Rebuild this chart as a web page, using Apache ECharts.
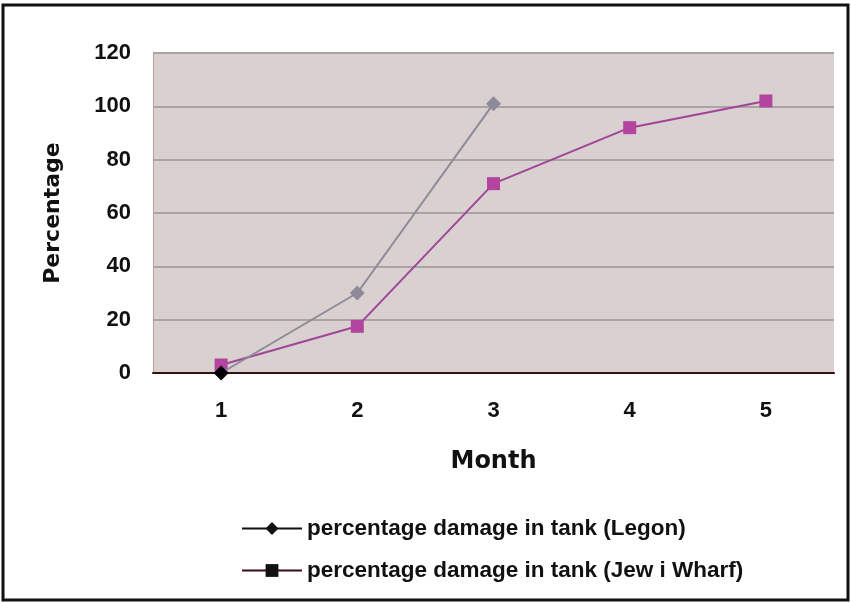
<!DOCTYPE html>
<html>
<head>
<meta charset="utf-8">
<script src="https://cdn.jsdelivr.net/npm/echarts@6/dist/echarts.min.js"></script>
<style>
  html, body { margin: 0; padding: 0; background: #ffffff; }
  #chart { width: 851px; height: 602px; }
</style>
</head>
<body>
<div id="chart"></div>
<script>
// Months along the x axis
const months = ['1', '2', '3', '4', '5'];
// Percentage damage per month
const legonValues = [0, 30, 101, null, null];
const jewWharfValues = [3, 17.5, 71, 92, 102];
const seriesNames = [
  'percentage damage in tank (Legon)',
  'percentage damage in tank (Jew i Wharf)'
];

const fontFamily = '"Liberation Sans", Arial, Helvetica, sans-serif';
const heavyFamily = '"DejaVu Sans", "Liberation Sans", Arial, sans-serif';

const chart = echarts.init(document.getElementById('chart'), null, { renderer: 'canvas' });

chart.setOption({
  backgroundColor: '#ffffff',
  animation: false,
  graphic: [{
    type: 'rect',
    shape: { x: 3, y: 5, width: 845, height: 595 },
    style: { fill: 'none', stroke: '#111111', lineWidth: 3 },
    z: 100
  }],
  grid: {
    left: 153, right: 17, top: 53, bottom: 229,
    show: true,
    backgroundColor: '#d9d0d0',
    borderWidth: 0
  },
  xAxis: {
    type: 'category',
    data: months,
    boundaryGap: true,
    name: 'Month',
    nameLocation: 'middle',
    nameGap: 77,
    nameTextStyle: { fontFamily: heavyFamily, fontWeight: 'bold', fontSize: 24, color: '#111' },
    axisLine: { lineStyle: { color: '#3a0e0e', width: 2 } },
    axisTick: { show: false },
    axisLabel: { fontFamily, fontWeight: 'bold', fontSize: 22, color: '#111', margin: 27 },
    splitLine: { show: false }
  },
  yAxis: {
    type: 'value',
    min: 0, max: 120, interval: 20,
    name: 'Percentage',
    nameLocation: 'middle',
    nameGap: 89,
    nameRotate: 90,
    nameTextStyle: { fontFamily: heavyFamily, fontWeight: 'bold', fontSize: 22, color: '#111' },
    axisLine: { show: true, lineStyle: { color: '#c49a9a', width: 1 } },
    axisTick: { show: false },
    axisLabel: { fontFamily, fontWeight: 'bold', fontSize: 22, color: '#111', margin: 22 },
    splitLine: { show: true, lineStyle: { color: '#aaa3a5', width: 2 } }
  },
  legend: {
    orient: 'vertical',
    left: 236,
    top: 512,
    itemGap: 19,
    itemWidth: 60,
    itemHeight: 16,
    textStyle: { fontFamily, fontWeight: 'bold', fontSize: 22.5, color: '#111' },
    data: [
      { name: seriesNames[0],
        itemStyle: { color: '#111' }, lineStyle: { color: '#111', width: 2 } },
      { name: seriesNames[1],
        itemStyle: { color: '#111' }, lineStyle: { color: '#3a0a20', width: 2 } }
    ]
  },
  series: [
    {
      name: seriesNames[0],
      type: 'line',
      data: legonValues.map((v, i) => i === 0
        ? { value: v, itemStyle: { color: '#000000' } }
        : v),
      symbol: 'diamond',
      symbolSize: 15,
      lineStyle: { color: '#8f8a9a', width: 2 },
      itemStyle: { color: '#8f8a9a' },
      z: 3
    },
    {
      name: seriesNames[1],
      type: 'line',
      data: jewWharfValues,
      symbol: 'rect',
      symbolSize: 13,
      lineStyle: { color: '#a2449a', width: 2 },
      itemStyle: { color: '#b3449f' },
      z: 2
    }
  ]
});
</script>
</body>
</html>
